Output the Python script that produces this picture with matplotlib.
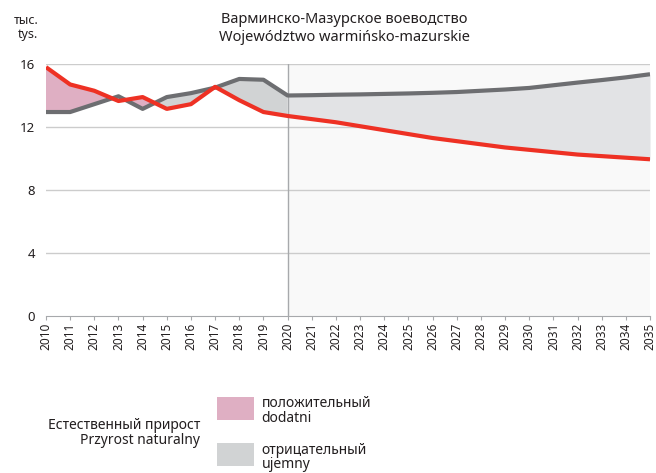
import matplotlib.pyplot as plt
import numpy as np

plt.rcParams['font.family'] = ['Noto Sans', 'DejaVu Sans']

years = np.arange(2010, 2036)
# red line
births = [15.8, 14.7, 14.3, 13.65, 13.9, 13.15, 13.45, 14.55, 13.7, 12.95,
          12.7, 12.5, 12.3, 12.05, 11.8, 11.55, 11.3, 11.1, 10.9, 10.7,
          10.55, 10.4, 10.25, 10.15, 10.05, 9.95]
# grey line
deaths = [12.95, 12.95, 13.45, 13.95, 13.15, 13.9, 14.15, 14.5, 15.05, 15.0,
          14.0, 14.02, 14.05, 14.07, 14.1, 14.13, 14.17, 14.22, 14.3, 14.38,
          14.48, 14.65, 14.82, 14.98, 15.15, 15.35]
split_year = 2020

title = "Варминско-Мазурское воеводство\nWojewództwo warmińsko-mazurskie"
unit = "тыс.\ntys."
legend_title = "Естественный прирост\nPrzyrost naturalny"
legend_pos = "положительный\ndodatni"
legend_neg = "отрицательный\nujemny"

red = '#ee3124'
grey = '#6d6e71'
pink = '#dfafc3'
grey_fill = '#d1d3d4'
grey_fill_proj = '#e2e3e5'

fig = plt.figure(figsize=(6.56, 4.73), dpi=100)
ax = fig.add_axes([0.0701, 0.332, 0.9208, 0.5327])

b = np.array(births)
d = np.array(deaths)
hist = years <= split_year
proj = years >= split_year

ax.axvspan(split_year, years[-1], color='#f9f9f9', zorder=0, lw=0)
ax.fill_between(years[hist], b[hist], d[hist], where=b[hist] >= d[hist],
                interpolate=True, color=pink, lw=0, zorder=1)
ax.fill_between(years[hist], b[hist], d[hist], where=b[hist] <= d[hist],
                interpolate=True, color=grey_fill, lw=0, zorder=1)
ax.fill_between(years[proj], b[proj], d[proj], color=grey_fill_proj, lw=0, zorder=1)

for v in [4, 8, 12, 16]:
    ax.axhline(v, color='#cccccc', lw=1, zorder=0.5)
ax.axvline(split_year, color='#a7a9ac', lw=1, zorder=2)

ax.plot(years, deaths, color=grey, lw=3, zorder=3, solid_capstyle='butt')
ax.plot(years, births, color=red, lw=3, zorder=4, solid_capstyle='butt')

ax.set_xlim(2010, 2035)
ax.set_ylim(0, 16)
ax.set_yticks([0, 4, 8, 12, 16])
ax.set_xticks(years)
ax.set_xticklabels([str(y) for y in years], rotation=90, fontsize=8.5, color='#231f20')
ax.tick_params(axis='y', length=0, labelsize=9.5, colors='#231f20', pad=8)
ax.tick_params(axis='x', length=3, color='#a7a9ac', pad=2)
for s in ['top', 'right', 'left']:
    ax.spines[s].set_visible(False)
ax.spines['bottom'].set_color('#a7a9ac')

fig.text(0.525, 0.975, title, ha='center', va='top', fontsize=10.5, color='#231f20',
         linespacing=1.25)
fig.text(0.058, 0.97, unit, ha='right', va='top', fontsize=9, color='#231f20',
         linespacing=1.1)

fig.text(0.305, 0.085, legend_title, ha='right', va='center', fontsize=10,
         color='#231f20', linespacing=1.05)
fig.patches.append(plt.Rectangle((0.331, 0.112), 0.056, 0.049, transform=fig.transFigure,
                                 color=pink, lw=0))
fig.patches.append(plt.Rectangle((0.331, 0.015), 0.056, 0.049, transform=fig.transFigure,
                                 color=grey_fill, lw=0))
fig.text(0.399, 0.131, legend_pos, ha='left', va='center', fontsize=10,
         color='#231f20', linespacing=0.95)
fig.text(0.399, 0.033, legend_neg, ha='left', va='center', fontsize=10,
         color='#231f20', linespacing=0.95)

fig.savefig('out.png', dpi=100)
